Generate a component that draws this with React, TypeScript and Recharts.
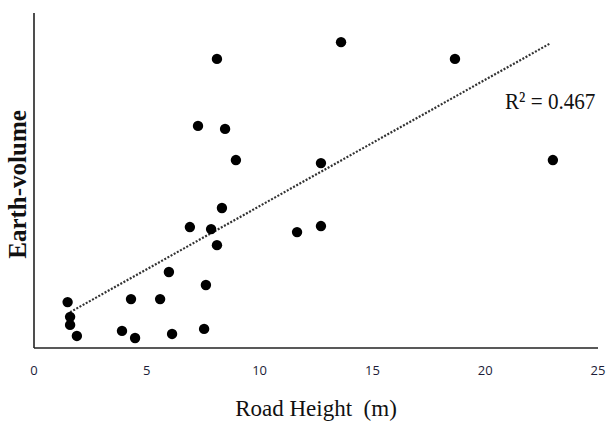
import { ComposedChart, Scatter, XAxis, YAxis, ReferenceLine } from 'recharts'

const roadHeight = [8.11, 13.61, 18.66, 7.27, 8.47, 8.95, 12.72, 23.0, 8.33, 6.91, 7.85, 8.11, 11.66, 12.72, 5.98, 7.62, 1.49, 4.3, 5.59, 1.6, 1.6, 1.9, 3.9, 4.48, 6.12, 7.54]
const earthVolume = [86.3, 91.3, 86.3, 66.3, 65.4, 56.1, 55.2, 56.1, 41.8, 36.1, 35.5, 30.7, 34.6, 36.4, 22.7, 18.8, 13.7, 14.6, 14.6, 9.3, 6.9, 3.6, 5.1, 3.0, 4.2, 5.7]
const trendX = [1.6, 22.9]
const trendY = [10.7, 91.0]
const xTicks = [0, 5, 10, 15, 20, 25]

const points = roadHeight.map((x, i) => ({ x, y: earthVolume[i] }))
const serif = '"Liberation Serif", "Times New Roman", serif'

const Dot = (p: any) => <circle cx={p.cx} cy={p.cy} r={5.2} fill="#000" />

export default function App() {
  return (
    <div style={{ position: 'absolute', left: 0, top: 0, width: 608, height: 423, background: '#fff' }}>
      <ComposedChart width={608} height={423} data={points} margin={{ top: 13, right: 10, bottom: 0, left: 0 }}>
        <XAxis type="number" dataKey="x" domain={[0, 25]} ticks={xTicks} height={75}
          tickLine={false} tickSize={0} tickMargin={18}
          tick={{ fill: '#1c1c38', fontSize: 13, fontFamily: '"Open Sans", sans-serif' }}
          axisLine={{ stroke: '#222', strokeWidth: 1.6 }}
          label={{ value: 'Road Height\u00a0\u00a0(m)', position: 'insideBottom', offset: 7, fill: '#111', fontSize: 23, fontFamily: serif }} />
        <YAxis type="number" dataKey="y" domain={[0, 100]} width={34} tick={false} tickLine={false}
          axisLine={{ stroke: '#222', strokeWidth: 1.6 }}
          label={{ value: 'Earth-volume', angle: -90, position: 'center', dy: 4, fill: '#111', fontSize: 25, fontWeight: 'bold', fontFamily: serif }} />
        <ReferenceLine segment={[{ x: trendX[0], y: trendY[0] }, { x: trendX[1], y: trendY[1] }]}
          stroke="#333" strokeWidth={2.2} strokeDasharray="2 1.6" ifOverflow="visible" />
        <Scatter data={points} dataKey="y" shape={Dot} isAnimationActive={false} />
      </ComposedChart>
      <div style={{ position: 'absolute', left: 505, top: 88, fontFamily: serif, fontSize: 24, color: '#111', whiteSpace: 'nowrap', transform: 'scaleX(0.88)', transformOrigin: 'left top' }}>
        R² = 0.467
      </div>
    </div>
  )
}
